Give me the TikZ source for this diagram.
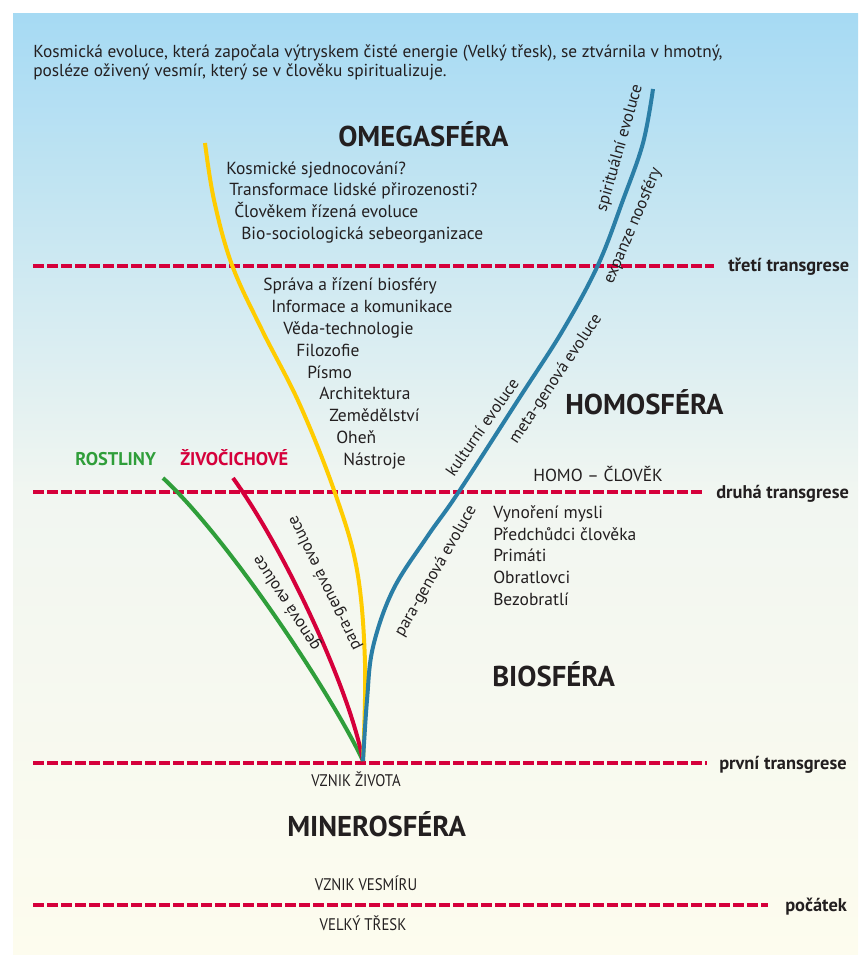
\documentclass[tikz,border=0pt]{standalone}
\usepackage{fontspec}
\setmainfont{PT Sans}
\definecolor{tred}{HTML}{D5003B}
\definecolor{tgreen}{HTML}{2F9E3A}
\definecolor{tyellow}{HTML}{FFCC00}
\definecolor{tblue}{HTML}{2A7EA6}
\definecolor{txt}{HTML}{231F20}
\definecolor{bgtop}{HTML}{A6DAF3}
\definecolor{bgmid}{HTML}{F1F6F1}
\definecolor{bgbot}{HTML}{FDFCEE}
\newcommand{\fs}[1]{\fontsize{#1}{#1}\selectfont}
\begin{document}
\begin{tikzpicture}[x=0.75pt,y=-0.75pt,
  every node/.style={inner sep=0pt, text=txt},
  lbl/.style={font=\fs{13.1}, anchor=base west},
  sphere/.style={font=\bfseries\fs{21.5}, anchor=base west},
  trans/.style={font=\bfseries\fs{13.8}, anchor=base west},
  event/.style={font=\fs{12.6}, anchor=base},
  curvelbl/.style={font=\fs{12.5}},
  sepline/.style={draw=tred, line width=3pt, dash pattern=on 8pt off 2.5pt},
  branch/.style={line width=3pt, line cap=butt}]
\useasboundingbox (0,0) rectangle (858,955);
\shade[top color=bgtop, bottom color=bgmid] (13,14) rectangle (858,490);
\shade[top color=bgmid, bottom color=bgbot] (13,489) rectangle (858,955);

% intro text
\node[lbl, font=\fs{13}] (intro1) at (33,58) {Kosmická evoluce, která započala výtryskem čisté energie (Velký třesk), se ztvárnila v hmotný,};
\node[lbl, font=\fs{13}] (intro2) at (33,77) {posléze oživený vesmír, který se v člověku spiritualizuje.};

% transgression lines
\coordinate (l3a) at (33,266); \coordinate (l3b) at (714,266);
\coordinate (l2a) at (33,492); \coordinate (l2b) at (702,492);
\coordinate (l1a) at (33,763); \coordinate (l1b) at (707,763);
\coordinate (l0a) at (33,905); \coordinate (l0b) at (768,905);
\draw[sepline] (l3a) -- (l3b);
\draw[sepline] (l2a) -- (l2b);
\draw[sepline] (l1a) -- (l1b);
\draw[sepline] (l0a) -- (l0b);
\node[trans] (t3) at (728,272) {třetí transgrese};
\node[trans] (t2) at (716,498) {druhá transgrese};
\node[trans] (t1) at (719,769) {první transgrese};
\node[trans] (t0) at (785,911) {počátek};

% spheres
\node[sphere] (omega) at (338,147) {OMEGASFÉRA};
\node[sphere] (homo) at (565,414) {HOMOSFÉRA};
\node[sphere] (bio) at (492,686) {BIOSFÉRA};
\node[sphere] (minero) at (287,836) {MINEROSFÉRA};

% omegasphere list
\node[lbl] (o1) at (226,175) {Kosmické sjednocování?};
\node[lbl] (o2) at (229,196) {Transformace lidské přirozenosti?};
\node[lbl] (o3) at (234,218) {Člověkem řízená evoluce};
\node[lbl] (o4) at (241,240) {Bio-sociologická sebeorganizace};

% homosphere list
\node[lbl] (h1) at (263,291) {Správa a řízení biosféry};
\node[lbl] (h2) at (271,312) {Informace a komunikace};
\node[lbl] (h3) at (283,334) {Věda-technologie};
\node[lbl] (h4) at (296,356) {Filozofie};
\node[lbl] (h5) at (307,378) {Písmo};
\node[lbl] (h6) at (319,399) {Architektura};
\node[lbl] (h7) at (329,421) {Zemědělství};
\node[lbl] (h8) at (336,443) {Oheň};
\node[lbl] (h9) at (343,465) {Nástroje};
\node[lbl] (homoman) at (533,481) {HOMO – ČLOVĚK};

% biosphere list
\node[lbl] (b1) at (493,518) {Vynoření mysli};
\node[lbl] (b2) at (493,540) {Předchůdci člověka};
\node[lbl] (b3) at (493,561) {Primáti};
\node[lbl] (b4) at (493,583) {Obratlovci};
\node[lbl] (b5) at (493,605) {Bezobratlí};

\node[font=\bfseries\fs{13.8}, text=tgreen, anchor=base west] (plants) at (75,465) {ROSTLINY};
\node[font=\bfseries\fs{13.8}, text=tred, anchor=base west] (animals) at (180,465) {ŽIVOČICHOVÉ};

% events
\node[event] (life) at (356,786) {\scalebox{0.88}[1]{VZNIK ŽIVOTA}};
\node[event] (universe) at (366,890) {\scalebox{0.88}[1]{VZNIK VESMÍRU}};
\node[event] (bang) at (363,930) {\scalebox{0.88}[1]{VELKÝ TŘESK}};

% branches
\coordinate (origin) at (363,761);
\coordinate (gEnd) at (163,478);
\coordinate (rEnd) at (233,478);
\coordinate (yEnd) at (205,143);
\coordinate (bEnd) at (653,89);
\draw[branch, tgreen] (origin) .. controls (335,700) and (230,540) .. (gEnd);
\draw[branch, tred] (origin) .. controls (350,690) and (285,550) .. (rEnd);
\draw[branch, tyellow] plot[smooth, tension=0.6] coordinates {(origin) (365,663) (357,570) (335,493) (300,405) (262,330) (232,265) (214,200) (yEnd)};
\draw[branch, tblue] plot[smooth, tension=0.6] coordinates {(origin) (367,700) (373,647) (393,590) (427,537) (458,493) (520,397) (563,330) (598,265) (623,200) (643,143) (bEnd)};

% branch labels
\node[curvelbl, rotate=123] (glbl) at (287,603) {genová evoluce};
\node[curvelbl, rotate=116] (rlbl) at (325,583) {para-genová evoluce};
\node[curvelbl, rotate=60] (blbl1) at (436,571) {para-genová evoluce};
\node[curvelbl, rotate=55] (blbl2) at (482,427) {kulturní evoluce};
\node[curvelbl, rotate=56] (blbl3) at (556,379) {meta-genová evoluce};
\node[curvelbl, rotate=74] (blbl4) at (620,148) {spirituální evoluce};
\node[curvelbl, rotate=67] (blbl5) at (633,226) {expanze noosféry};
\end{tikzpicture}
\end{document}
